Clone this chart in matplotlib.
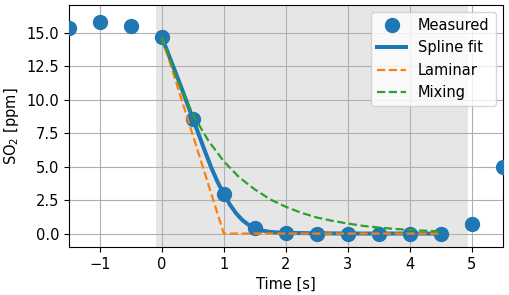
import matplotlib
matplotlib.use('Agg')
import matplotlib.pyplot as plt

plt.rcParams['font.size'] = 10.5

# measured data
t_meas = [-1.5, -1.0, -0.5, 0.0, 0.5, 1.0, 1.5, 2.0, 2.5, 3.0, 3.5, 4.0, 4.5, 5.0, 5.5]
so2_meas = [15.35, 15.8, 15.55, 14.7, 8.6, 2.95, 0.4, 0.05, 0.0, 0.0, 0.0, 0.0, 0.0, 0.7, 5.0]

# spline fit
t_fit = [0.0, 0.1, 0.2, 0.3, 0.4, 0.5, 0.6, 0.7, 0.8, 0.9, 1.0, 1.1, 1.2, 1.3, 1.4,
         1.5, 1.6, 1.7, 1.8, 1.9, 2.0, 2.5, 3.0, 3.5, 4.0, 4.5]
so2_fit = [14.7, 13.5, 12.3, 11.1, 9.85, 8.6, 7.35, 6.1, 4.9, 3.85, 2.95, 2.15, 1.5, 1.0, 0.65,
           0.4, 0.25, 0.15, 0.1, 0.07, 0.05, 0.02, 0.0, 0.0, 0.0, 0.0]

# laminar model
t_lam = [0.0, 1.0, 4.5]
so2_lam = [14.7, 0.0, 0.0]

# mixing model
t_mix = [0.0, 0.25, 0.5, 0.75, 1.0, 1.25, 1.5, 1.75, 2.0, 2.25, 2.5, 2.75, 3.0,
         3.25, 3.5, 3.75, 4.0, 4.25, 4.5]
so2_mix = [14.7, 11.45, 8.9, 6.95, 5.4, 4.2, 3.3, 2.55, 2.0, 1.55, 1.2, 0.95, 0.75,
           0.57, 0.45, 0.35, 0.27, 0.21, 0.16]

fig, ax = plt.subplots(figsize=(5.1, 2.95), dpi=100)

ax.axvspan(-0.1, 4.93, color='0.9', zorder=0, lw=0)
ax.grid(True, color='#b0b0b0', zorder=1)
ax.set_axisbelow(True)

ax.plot(t_meas, so2_meas, 'o', color='C0', markersize=10, label='Measured', zorder=3)
ax.plot(t_fit, so2_fit, '-', color='C0', lw=2.9, label='Spline fit', zorder=3)
ax.plot(t_lam, so2_lam, '--', color='C1', lw=1.6, label='Laminar', zorder=4)
ax.plot(t_mix, so2_mix, '--', color='C2', lw=1.6, label='Mixing', zorder=4)

ax.set_xlim(-1.5, 5.5)
ax.set_ylim(-1.0, 17.1)
ax.set_xticks([-1, 0, 1, 2, 3, 4, 5])
ax.set_yticks([0, 2.5, 5, 7.5, 10, 12.5, 15])
ax.set_xlabel('Time [s]')
ax.set_ylabel('SO$_2$ [ppm]')
ax.legend(loc='upper right')

fig.subplots_adjust(left=0.135, right=0.986, top=0.983, bottom=0.163)
fig.savefig('out.png')
